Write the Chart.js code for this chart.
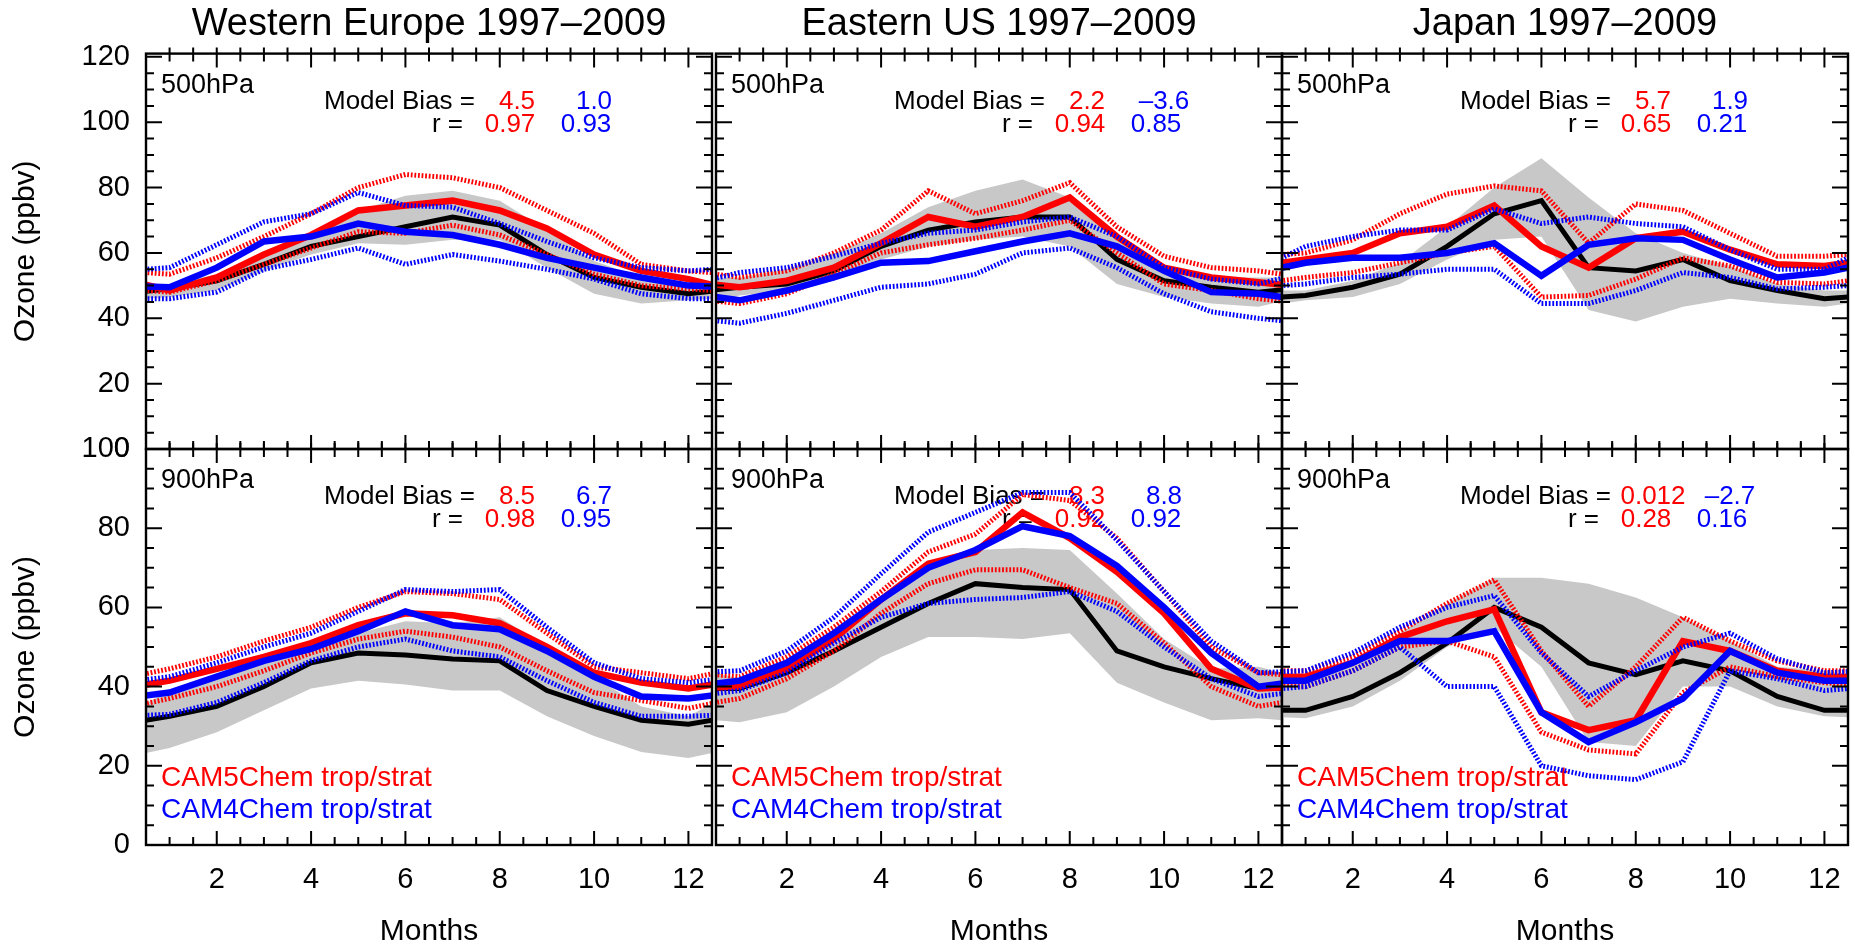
<!DOCTYPE html>
<html>
<head>
<meta charset="utf-8">
<title>Ozone seasonal cycles 1997–2009</title>
<script src="https://cdn.jsdelivr.net/npm/chart.js@4.4.1/dist/chart.umd.min.js"></script>
<style>
  html, body { margin: 0; padding: 0; background: #fff; }
  #figure { position: relative; width: 1855px; height: 947px; overflow: hidden; }
  #figure canvas { position: absolute; left: 0; top: 0; }
</style>
</head>
<body>
<div id="figure"></div>
<script>
const months = [1, 2, 3, 4, 5, 6, 7, 8, 9, 10, 11, 12];
const monthTicks = [2, 4, 6, 8, 10, 12];
const ozoneTicks500 = [0, 20, 40, 60, 80, 100, 120];
const ozoneTicks900 = [0, 20, 40, 60, 80, 100];

// Western Europe, 500 hPa
const weu500Obs    = [49, 51.5, 56.5, 62, 65, 68, 71, 68.5, 59.5, 52.5, 49.5, 47.5];
const weu500ObsHi  = [50.5, 53.5, 58.5, 66, 73, 77.5, 79, 76, 67, 57.5, 52.5, 50.5];
const weu500ObsLo  = [46.5, 48.5, 54.5, 59.5, 63, 62.5, 64, 64, 55.5, 47.5, 44.5, 45.5];
const weu500Cam5   = [48.5, 52.5, 59.5, 65.5, 73, 74.5, 76, 73, 67.5, 59.5, 54.5, 52];
const weu500Cam5Hi = [53.5, 58.5, 65, 72, 80, 84, 83, 80, 73, 66, 56.5, 54.5];
const weu500Cam5Lo = [48, 51.5, 56.5, 61.5, 66.5, 66, 68.5, 65.5, 59.5, 53.5, 50, 49];
const weu500Cam4   = [49.5, 55.5, 63.5, 65, 69, 66.5, 65.5, 62.5, 58.5, 55.5, 52.5, 50];
const weu500Cam4Hi = [55.5, 62.5, 69.5, 72, 78.5, 74.5, 74, 69, 63.5, 58.5, 55.5, 54.5];
const weu500Cam4Lo = [46, 48, 55, 58, 61.5, 56.5, 59.5, 57.5, 55, 52, 47.5, 46];
const weu500Stats  = ['4.5', '1.0', '0.97', '0.93'];

// Eastern US, 500 hPa
const eus500Obs    = [49.5, 50.5, 54.5, 62, 67, 69.5, 71, 71, 58, 51.5, 49.5, 48];
const eus500ObsHi  = [52.5, 55, 60, 66, 74, 79, 82.5, 77, 66, 55.5, 52.5, 52.5];
const eus500ObsLo  = [47, 48.5, 51.5, 58, 62, 64, 65, 62, 50.5, 46.5, 44.5, 43.5];
const eus500Cam5   = [49.5, 51.5, 55.5, 63, 71, 68, 71, 77, 65, 55.5, 52.5, 51];
const eus500Cam5Hi = [52.5, 54.5, 60, 67, 79, 72, 76, 81.5, 68, 59, 55.5, 54.5];
const eus500Cam5Lo = [44.5, 47.5, 53.5, 60, 62.5, 64.5, 67, 70, 60, 50.5, 48.5, 46];
const eus500Cam4   = [45.5, 48.5, 52.5, 57, 57.5, 60.5, 63.5, 66, 62, 54.5, 48, 47.5];
const eus500Cam4Hi = [54, 55.5, 59, 63, 66, 67, 69.5, 71, 65, 55.5, 52, 50.5];
const eus500Cam4Lo = [38.5, 41.5, 45.5, 49.5, 50.5, 53.5, 60, 61.5, 55.5, 47.5, 42, 40];
const eus500Stats  = ['2.2', '–3.6', '0.94', '0.85'];

// Japan, 500 hPa
const jpn500Obs    = [47, 49.5, 53.5, 62, 72, 76, 55.5, 54.5, 58, 51.5, 48.5, 46];
const jpn500ObsHi  = [48.5, 51.5, 57, 68, 80, 89, 77, 66, 60, 56, 50.5, 48.5];
const jpn500ObsLo  = [45.5, 46.5, 50.5, 58, 64, 65, 42.5, 39, 43.5, 46, 44.5, 43.5];
const jpn500Cam5   = [58, 60, 66, 68, 74.5, 62, 55.5, 64.5, 66.5, 61, 56.5, 56];
const jpn500Cam5Hi = [60, 64, 72, 78, 80.5, 79, 63, 75, 73, 66, 59, 59];
const jpn500Cam5Lo = [52.5, 54, 57, 60, 62, 46.5, 47, 52, 58.5, 56, 51, 50.5];
const jpn500Cam4   = [57, 58.5, 58.5, 60, 63, 53, 62.5, 64.5, 64, 58, 52.5, 54];
const jpn500Cam4Hi = [62, 65, 67, 67, 73.5, 69, 71, 69, 68, 61, 55, 55];
const jpn500Cam4Lo = [50.5, 52.5, 53.5, 55, 55, 44.5, 44.5, 48.5, 54, 52.5, 49, 49.5];
const jpn500Stats  = ['5.7', '1.9', '0.65', '0.21'];

// Western Europe, 900 hPa
const weu900Obs    = [32.5, 35, 40, 46, 48.5, 48, 47, 46.5, 39, 35, 31.5, 30.5];
const weu900ObsHi  = [39, 42.5, 46.5, 49, 53.5, 56.5, 56, 57.5, 50, 42.5, 35, 32.5];
const weu900ObsLo  = [24.5, 28.5, 34, 39.5, 41.5, 40.5, 39, 39, 32.5, 27.5, 23.5, 22];
const weu900Cam5   = [41.5, 44.5, 47.5, 51, 55.5, 58.5, 58, 56, 50, 43.5, 41, 39.5];
const weu900Cam5Hi = [44.5, 47.5, 51.5, 55, 60, 64, 63.5, 62, 53.5, 45, 43.5, 42];
const weu900Cam5Lo = [37, 40, 44, 48.5, 52, 54, 52.5, 50, 44, 38.5, 36.5, 34.5];
const weu900Cam4   = [38.5, 42.5, 46.5, 49.5, 54, 59, 55.5, 54.5, 49, 42.5, 37.5, 37];
const weu900Cam4Hi = [42.5, 46, 50, 53.5, 59, 64.5, 64, 64.5, 55, 46, 42, 41];
const weu900Cam4Lo = [33, 36, 41, 46.5, 50, 52, 49, 47.5, 41.5, 36, 32.5, 32.5];
const weu900Stats  = ['8.5', '6.7', '0.98', '0.95'];

// Eastern US, 900 hPa
const eus900Obs    = [39.5, 43.5, 49, 55, 61, 66, 65, 64.5, 49, 45, 42, 39.5];
const eus900ObsHi  = [42, 47, 54.5, 62.5, 70, 74.5, 75, 74.5, 63.5, 52, 44.5, 45];
const eus900ObsLo  = [31, 33.5, 40, 47.5, 52.5, 52.5, 52, 53.5, 41, 36, 31.5, 32];
const eus900Cam5   = [40, 44.5, 52, 62, 71, 74, 84, 77.5, 69, 58.5, 44.5, 39.5];
const eus900Cam5Hi = [42.5, 47.5, 55, 64, 74, 78.5, 88.5, 87, 77.5, 64, 50, 43.5];
const eus900Cam5Lo = [37, 42, 49, 58.5, 66, 69.5, 69.5, 65, 61, 51, 40, 35];
const eus900Cam4   = [41.5, 46, 53.5, 62, 70, 74.5, 80.5, 78, 70.5, 60, 48.5, 40];
const eus900Cam4Hi = [44, 49, 57.5, 68.5, 79, 84, 89, 89, 77, 64, 51.5, 43.5];
const eus900Cam4Lo = [39, 43.5, 51, 57.5, 61, 62, 62.5, 64, 59, 50, 42, 37.5];
const eus900Stats  = ['8.3', '8.8', '0.92', '0.92'];

// Japan, 900 hPa
const jpn900Obs    = [34, 37.5, 43.5, 51, 60, 55, 46, 43, 46.5, 44, 37.5, 34];
const jpn900ObsHi  = [42, 46, 53.5, 61, 67.5, 67.5, 66, 62.5, 57.5, 51.5, 45, 44];
const jpn900ObsLo  = [32, 35, 41.5, 50, 55, 45, 26, 25, 40, 40, 35, 32.5];
const jpn900Cam5   = [42.5, 46, 52.5, 56.5, 59.5, 33.5, 29, 31.5, 51.5, 49, 44, 42.5];
const jpn900Cam5Hi = [44, 47.5, 54, 61, 67, 49, 35, 45, 57.5, 51.5, 46.5, 44];
const jpn900Cam5Lo = [40, 44, 50, 51.5, 47.5, 28.5, 24, 23, 38.5, 45, 42.5, 41];
const jpn900Cam4   = [41.5, 46, 51.5, 51.5, 54, 33.5, 26, 31, 37, 49, 43.5, 41.5];
const jpn900Cam4Hi = [44, 48.5, 55, 60, 63, 48.5, 37.5, 44, 50, 53.5, 47, 43.5];
const jpn900Cam4Lo = [40, 44, 50, 40, 40, 20, 17.5, 16.5, 21, 44, 42, 39];
const jpn900Stats  = ['0.012', '–2.7', '0.28', '0.16'];

const W = 1855, H = 947;
const FONT = '"Liberation Sans", Arial, Helvetica, sans-serif';
const colEdges = [[146, 712], [716, 1282], [1282, 1848]];
const rowEdges = [[54, 449], [449, 845]];
const RED = '#ff0000', BLUE = '#0000ff', BAND = '#c8c8c8';

const panels = [
  { title: 'Western Europe 1997–2009', level: '500hPa', col: 0, row: 0, stats: weu500Stats,
    obs: weu500Obs, obsHi: weu500ObsHi, obsLo: weu500ObsLo,
    cam5: weu500Cam5, cam5Hi: weu500Cam5Hi, cam5Lo: weu500Cam5Lo,
    cam4: weu500Cam4, cam4Hi: weu500Cam4Hi, cam4Lo: weu500Cam4Lo },
  { title: 'Eastern US 1997–2009', level: '500hPa', col: 1, row: 0, stats: eus500Stats,
    obs: eus500Obs, obsHi: eus500ObsHi, obsLo: eus500ObsLo,
    cam5: eus500Cam5, cam5Hi: eus500Cam5Hi, cam5Lo: eus500Cam5Lo,
    cam4: eus500Cam4, cam4Hi: eus500Cam4Hi, cam4Lo: eus500Cam4Lo },
  { title: 'Japan 1997–2009', level: '500hPa', col: 2, row: 0, stats: jpn500Stats,
    obs: jpn500Obs, obsHi: jpn500ObsHi, obsLo: jpn500ObsLo,
    cam5: jpn500Cam5, cam5Hi: jpn500Cam5Hi, cam5Lo: jpn500Cam5Lo,
    cam4: jpn500Cam4, cam4Hi: jpn500Cam4Hi, cam4Lo: jpn500Cam4Lo },
  { level: '900hPa', col: 0, row: 1, stats: weu900Stats,
    obs: weu900Obs, obsHi: weu900ObsHi, obsLo: weu900ObsLo,
    cam5: weu900Cam5, cam5Hi: weu900Cam5Hi, cam5Lo: weu900Cam5Lo,
    cam4: weu900Cam4, cam4Hi: weu900Cam4Hi, cam4Lo: weu900Cam4Lo },
  { level: '900hPa', col: 1, row: 1, stats: eus900Stats,
    obs: eus900Obs, obsHi: eus900ObsHi, obsLo: eus900ObsLo,
    cam5: eus900Cam5, cam5Hi: eus900Cam5Hi, cam5Lo: eus900Cam5Lo,
    cam4: eus900Cam4, cam4Hi: eus900Cam4Hi, cam4Lo: eus900Cam4Lo },
  { level: '900hPa', col: 2, row: 1, stats: jpn900Stats,
    obs: jpn900Obs, obsHi: jpn900ObsHi, obsLo: jpn900ObsLo,
    cam5: jpn900Cam5, cam5Hi: jpn900Cam5Hi, cam5Lo: jpn900Cam5Lo,
    cam4: jpn900Cam4, cam4Hi: jpn900Cam4Hi, cam4Lo: jpn900Cam4Lo }
];

// the seasonal cycle repeats, so December sits before January and January after December
const wrapMonths = [months[0] - 1, ...months, months[months.length - 1] + 1];
function series(values) {
  const wrapped = [values[values.length - 1], ...values, values[0]];
  return wrapped.map((y, i) => ({ x: wrapMonths[i], y }));
}

function line(values, color, width, dash, order) {
  return {
    data: series(values),
    borderColor: color,
    borderWidth: width,
    borderDash: dash,
    pointRadius: 0,
    fill: false,
    tension: 0,
    clip: 0,
    order
  };
}

function buildDatasets(p) {
  const dots = [1.8, 1.8];
  return [
    { data: series(p.obsHi), borderColor: 'transparent', borderWidth: 0, pointRadius: 0,
      backgroundColor: BAND, fill: '+1', clip: 0, order: 7 },
    { data: series(p.obsLo), borderColor: 'transparent', borderWidth: 0, pointRadius: 0,
      fill: false, clip: 0, order: 8 },
    line(p.obs, '#000000', 5, [], 5),
    line(p.cam5Hi, RED, 5, dots, 4),
    line(p.cam5Lo, RED, 5, dots, 4),
    line(p.cam5, RED, 6.5, [], 3),
    line(p.cam4Hi, BLUE, 5, dots, 2),
    line(p.cam4Lo, BLUE, 5, dots, 2),
    line(p.cam4, BLUE, 6.5, [], 1)
  ];
}

// panel box, inward tick marks and the text written inside each panel
function panelDecor(p) {
  return {
    id: 'panelDecor',
    beforeDatasetsDraw(chart) {
      const { ctx, chartArea: a } = chart;
      ctx.save();
      ctx.textBaseline = 'middle';
      ctx.fillStyle = '#000';
      ctx.textAlign = 'left';
      ctx.font = `27px ${FONT}`;
      ctx.fillText(p.level, a.left + 15, a.top + 32);

      ctx.font = `26px ${FONT}`;
      ctx.textAlign = 'right';
      ctx.fillText('Model Bias =', a.left + 329, a.top + 48);
      ctx.fillText('r =', a.left + 317, a.top + 71);
      ctx.textAlign = 'center';
      ctx.fillStyle = RED;
      ctx.fillText(p.stats[0], a.left + 371, a.top + 48);
      ctx.fillText(p.stats[2], a.left + 364, a.top + 71);
      ctx.fillStyle = BLUE;
      ctx.fillText(p.stats[1], a.left + 448, a.top + 48);
      ctx.fillText(p.stats[3], a.left + 440, a.top + 71);

      if (p.row === 1) {
        ctx.font = `28px ${FONT}`;
        ctx.textAlign = 'left';
        ctx.fillStyle = RED;
        ctx.fillText('CAM5Chem trop/strat', a.left + 15, a.bottom - 67);
        ctx.fillStyle = BLUE;
        ctx.fillText('CAM4Chem trop/strat', a.left + 15, a.bottom - 35);
      }
      ctx.restore();
    },
    afterDatasetsDraw(chart) {
      const { ctx, chartArea: a, scales } = chart;
      const xs = scales.x, ys = scales.y;
      ctx.save();
      ctx.strokeStyle = '#000';
      ctx.lineWidth = 2;
      ctx.beginPath();
      for (let m = xs.min + 0.5; m < xs.max; m += 0.5) {
        const x = xs.getPixelForValue(m);
        const len = m % 2 === 0 ? 14 : 8;
        ctx.moveTo(x, a.bottom);
        ctx.lineTo(x, a.bottom - len);
        ctx.moveTo(x, a.top - 6);
        ctx.lineTo(x, a.top + len);
      }
      for (let v = 5; v < ys.max; v += 5) {
        const y = ys.getPixelForValue(v);
        const len = v % 20 === 0 ? 16 : 8;
        ctx.moveTo(a.left, y);
        ctx.lineTo(a.left + len, y);
        ctx.moveTo(a.right, y);
        ctx.lineTo(a.right - len, y);
      }
      ctx.stroke();
      ctx.lineWidth = 2.4;
      ctx.strokeRect(a.left, a.top, a.right - a.left, a.bottom - a.top);
      ctx.restore();
    }
  };
}

function buildChart(p) {
  const canvas = document.createElement('canvas');
  canvas.width = W;
  canvas.height = H;
  document.getElementById('figure').appendChild(canvas);

  const [left, right] = colEdges[p.col];
  const [top, bottom] = rowEdges[p.row];
  const showY = p.col === 0;
  const showX = p.row === 1;
  const yTicks = p.row === 0 ? ozoneTicks500 : ozoneTicks900;

  return new Chart(canvas, {
    type: 'line',
    data: { datasets: buildDatasets(p) },
    options: {
      responsive: false,
      animation: false,
      devicePixelRatio: 1,
      events: [],
      layout: {
        padding: {
          left: showY ? 0 : left,
          right: W - right,
          top: p.row === 0 ? 0 : top,
          bottom: showX ? 0 : H - bottom
        }
      },
      plugins: {
        legend: { display: false },
        tooltip: { enabled: false },
        title: {
          display: p.row === 0,
          text: p.title || '',
          fullSize: false,
          color: '#000',
          font: { size: 38, weight: 'normal' },
          padding: { top: 2, bottom: 6 }
        }
      },
      scales: {
        x: {
          type: 'linear',
          min: 0.5,
          max: 12.5,
          display: showX,
          grid: { display: false },
          border: { display: false },
          ticks: { color: '#000', font: { size: 29 }, padding: 10 },
          title: { display: true, text: 'Months', color: '#000',
                   font: { size: 30, lineHeight: 1 }, padding: { top: 0, bottom: 0 } },
          afterBuildTicks: s => { s.ticks = monthTicks.map(value => ({ value })); },
          afterFit: s => { if (showX) s.height = H - bottom; }
        },
        y: {
          type: 'linear',
          min: 0,
          max: p.row === 0 ? 121 : 100,
          display: showY,
          grid: { display: false },
          border: { display: false },
          ticks: { color: '#000', font: { size: 29 }, padding: 8 },
          title: { display: true, text: 'Ozone (ppbv)', color: '#000',
                   font: { size: 30, lineHeight: 1 }, padding: { top: 11, bottom: 0 } },
          afterBuildTicks: s => { s.ticks = yTicks.map(value => ({ value })); },
          afterFit: s => { if (showY) s.width = left; }
        }
      }
    },
    plugins: [panelDecor(p)]
  });
}

Chart.defaults.font.family = FONT;
Chart.defaults.color = '#000';
panels.forEach(buildChart);
</script>
</body>
</html>
